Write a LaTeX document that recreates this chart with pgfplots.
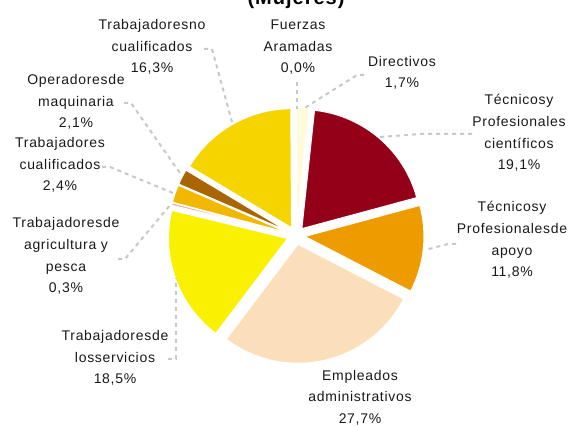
\documentclass[border=0pt]{standalone}
\usepackage{fontspec}
\setmainfont{Liberation Sans}[LetterSpace=5]
\usepackage{pgfplots}
\usepackage{pgfplotstable}
\pgfplotsset{compat=1.18}

\definecolor{cFA}{HTML}{FFFFFF}
\definecolor{cDir}{HTML}{FFFBD9}
\definecolor{cCie}{HTML}{950019}
\definecolor{cApo}{HTML}{EE9B00}
\definecolor{cEmp}{HTML}{FBDFBB}
\definecolor{cSer}{HTML}{F9F100}
\definecolor{cAgr}{HTML}{F4A38E}
\definecolor{cCua}{HTML}{F2B700}
\definecolor{cOpe}{HTML}{A96500}
\definecolor{cNoc}{HTML}{F5D400}
\definecolor{leadgray}{HTML}{C8C8C8}

% shares in percent, clockwise from 12 o'clock
\pgfplotstableread{
value color
0.0  cFA
1.7  cDir
19.1 cCie
11.8 cApo
27.7 cEmp
18.5 cSer
0.3  cAgr
2.4  cCua
2.1  cOpe
16.3 cNoc
}\pietable

\begin{document}
\begin{tikzpicture}[
    % base anchor of a multi-line node = baseline of its last line
    lbl/.style={align=center, anchor=base, inner sep=0pt,
        font=\fontsize{10.5}{16.3}\selectfont, text=black!90},
    leader/.style={leadgray, line width=1.5pt, dash pattern=on 3pt off 3pt},
]
\begin{axis}[
    width=428.25pt, height=320.25pt, scale only axis,
    xmin=0, xmax=571, ymin=0, ymax=427,
    hide axis, clip=false,
]
% slices
\pgfplotstablegetrowsof{\pietable}
\pgfmathtruncatemacro\lastrow{\pgfplotsretval-1}
\xdef\cur{90}
\pgfplotsinvokeforeach{0,...,\lastrow}{
    \pgfplotstablegetelem{#1}{value}\of\pietable
    \pgfmathsetmacro\ang{\pgfplotsretval*3.6}
    \pgfplotstablegetelem{#1}{color}\of\pietable
    \let\col\pgfplotsretval
    \pgfmathsetmacro\en{\cur-\ang}
    \pgfmathsetmacro\mid{\cur-\ang/2}
    \ifdim\ang pt>0pt
        \edef\temp{\noexpand\fill[\col, draw=white, line width=0.75pt]
            (axis cs:296,191.5) ++(\mid:6.75pt) -- ++(\cur:89.25pt)
            arc[start angle=\cur, end angle=\en, radius=89.25pt] -- cycle;}
        \temp
    \fi
    \xdef\cur{\en}
}

% leader lines
\addplot[leader, no marks] coordinates {(204,378) (212,378) (232,305)};
\addplot[leader, no marks] coordinates {(297,345) (297,318)};
\addplot[leader, no marks] coordinates {(364,352) (357,352) (303,318)};
\addplot[leader, no marks] coordinates {(472,293) (420,293) (380,290)};
\addplot[leader, no marks] coordinates {(456,183) (448,183) (425,177)};
\addplot[leader, no marks] coordinates {(168,68) (176,68) (176,149)};
\addplot[leader, no marks] coordinates {(118,168) (125,168) (171,223)};
\addplot[leader, no marks] coordinates {(102,260) (110,260) (173,234)};
\addplot[leader, no marks] coordinates {(124,324) (131,324) (182,251)};

% title, cut at the top like the original
\node[anchor=base, inner sep=0pt, font=\fontsize{15}{18}\selectfont\bfseries]
    at (axis cs:296,422) {(Mujeres)};

% labels (placed at the baseline of the last line)
\node[lbl] at (axis cs:152,354) {Trabajadoresno\\cualificados\\16,3\%};
\node[lbl] at (axis cs:298,354) {Fuerzas\\Aramadas\\0,0\%};
\node[lbl] at (axis cs:402,339) {Directivos\\1,7\%};
\node[lbl] at (axis cs:519,257) {Técnicosy\\Profesionales\\científicos\\19,1\%};
\node[lbl] at (axis cs:512,150) {Técnicosy\\Profesionalesde\\apoyo\\11,8\%};
\node[lbl] at (axis cs:360,3.5) {Empleados\\administrativos\\27,7\%};
\node[lbl] at (axis cs:115,43) {Trabajadoresde\\losservicios\\18,5\%};
\node[lbl] at (axis cs:66,134) {Trabajadoresde\\agricultura y\\pesca\\0,3\%};
\node[lbl] at (axis cs:60,236) {Trabajadores\\cualificados\\2,4\%};
\node[lbl] at (axis cs:76,299) {Operadoresde\\maquinaria\\2,1\%};
\end{axis}
\pgfresetboundingbox
\path[use as bounding box] (current axis.south west) rectangle (current axis.north east);
\end{tikzpicture}
\end{document}
